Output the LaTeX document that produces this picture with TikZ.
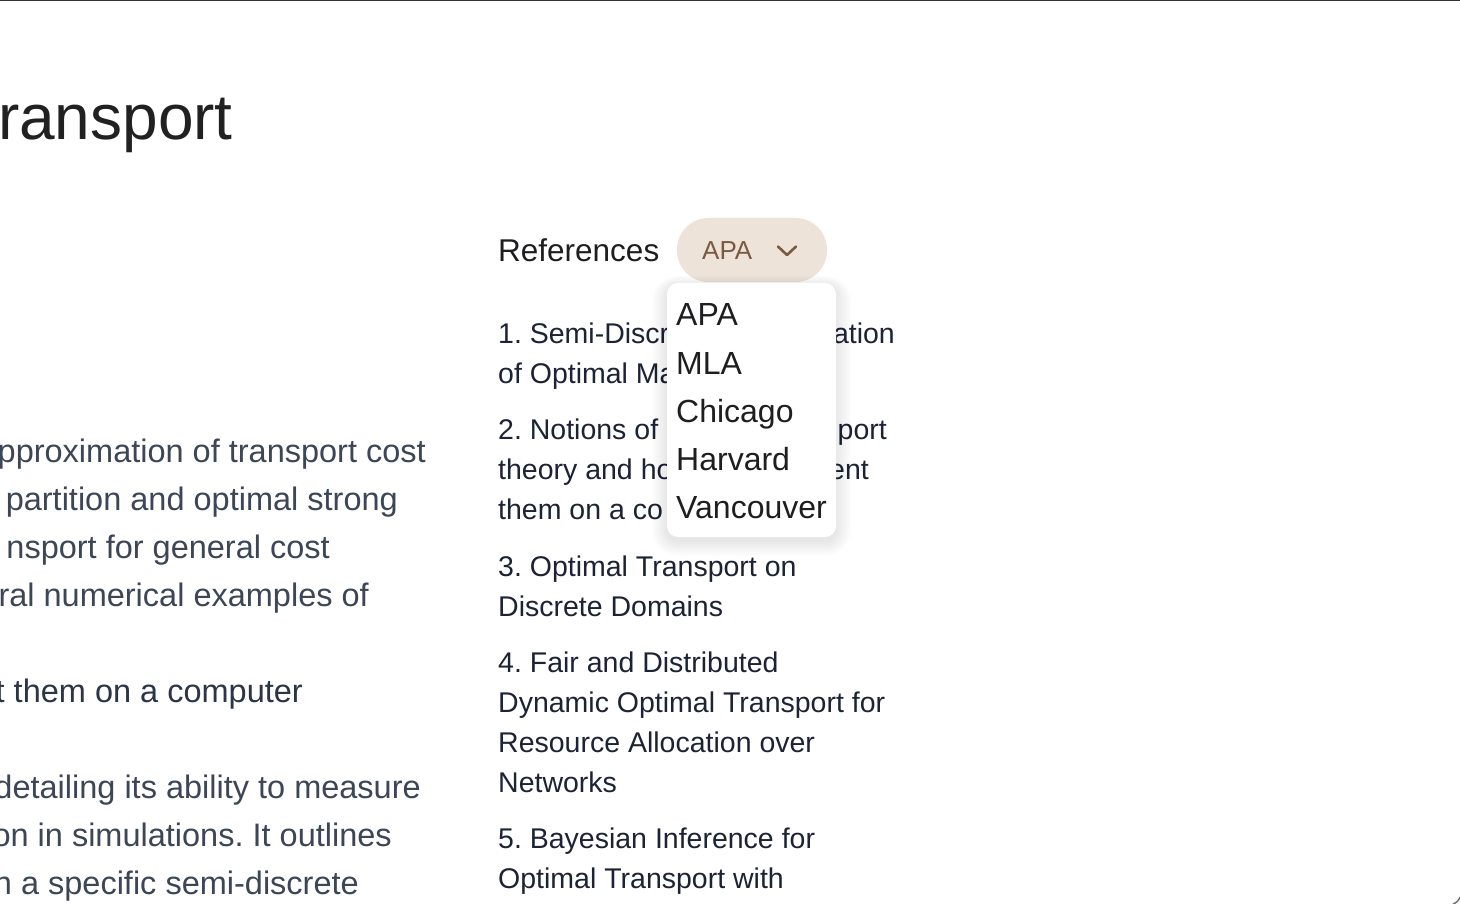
\documentclass[tikz,border=0pt]{standalone}
\usepackage{fontspec}
\setmainfont{Liberation Sans}
\usetikzlibrary{positioning}
\usepackage{xcolor}

\definecolor{slate}{HTML}{3D4656}
\definecolor{slatedark}{HTML}{2C3545}
\definecolor{navy}{HTML}{1C2334}
\definecolor{ink}{HTML}{1E1E20}
\definecolor{pill}{HTML}{EDE3D8}
\definecolor{pilltext}{HTML}{7B5A43}

\begin{document}
\frenchspacing
\begin{tikzpicture}[x=1pt,y=-1pt,
  every node/.style={inner sep=0pt},
  bodyline/.style={anchor=base east, text=slate, font=\fontsize{32.5}{48}\selectfont},
  listline/.style={anchor=base west, text=navy, font=\fontsize{28.5}{40}\selectfont},
  listtail/.style={anchor=base east, text=navy, font=\fontsize{28.5}{40}\selectfont},
  menuitem/.style={anchor=base west, text=ink, font=\fontsize{32}{48}\selectfont}]

\useasboundingbox (0,0) rectangle (1460,904);
\clip (0,0) rectangle (1460,904);
\fill[white] (0,0) rectangle (1460,904);

% window edge
\draw[black!80, line width=1.5pt] (0,0.75)--(1460,0.75);
\draw[black!55, line width=1.5pt] (1453,904) to[bend right=25] (1460,897);

% heading
\node[anchor=base east, text=black!87, font=\fontsize{64}{72}\selectfont] (title) at (233,140) {ransport};

% left column
{
\node[bodyline] (para1) at (426,462) {pproximation of transport cost};
\node[bodyline] (para2) at (398,510) {partition and optimal strong};
\node[bodyline] (para3) at (330,558) {nsport for general cost};
\node[bodyline] (para4) at (369,606) {eral numerical examples of};

\node[bodyline, text=slatedark] (sub2) at (303,702) {t them on a computer};

\node[bodyline] (para5) at (421,798) {detailing its ability to measure};
\node[bodyline] (para6) at (392,846) {on in simulations. It outlines};
\node[bodyline] (para7) at (359,894) {n a specific semi-discrete};
}

% references header
\node[anchor=base west, text=ink, font=\fontsize{31.5}{40}\selectfont] (reflabel) at (498,261.5) {References};

\node[fill=pill, rounded corners=31.5pt, minimum width=150pt, minimum height=64pt] (stylebtn) at (752,250) {};
\node[anchor=base west, text=pilltext, font=\fontsize{26}{30}\selectfont] (stylename) at (702,260) {APA};
\draw[pilltext, line width=2.6pt, line cap=round, line join=round] (778,246.5)--(787,255)--(796,246.5);

% reference list
{
\node[listline] (ref1a) at (498,343) {1. Semi-Discr};
\node[listtail] (ref1b) at (895,343) {ation};
\node[listline] (ref1c) at (498,383) {of Optimal Ma};

\node[listline] (ref2a) at (498,439) {2. Notions of};
\node[listtail] (ref2b) at (887,439) {port};
\node[listline] (ref2c) at (498,479) {theory and ho};
\node[listtail] (ref2d) at (869,479) {ent};
\node[listline] (ref2e) at (498,519) {them on a co};

\node[listline] (ref3a) at (498,576) {3. Optimal Transport on};
\node[listline] (ref3b) at (498,616) {Discrete Domains};

\node[listline] (ref4a) at (498,672) {4. Fair and Distributed};
\node[listline] (ref4b) at (498,712) {Dynamic Optimal Transport for};
\node[listline] (ref4c) at (498,752) {Resource Allocation over};
\node[listline] (ref4d) at (498,792) {Networks};

\node[listline] (ref5a) at (498,848) {5. Bayesian Inference for};
\node[listline] (ref5b) at (498,888) {Optimal Transport with};
}

% dropdown menu, soft shadow first
\foreach \s in {1,3,...,15}
  \fill[black, opacity=0.012, rounded corners=11+\s] (667-\s,285-0.6*\s) rectangle (836+\s,541+\s);
\node[fill=white, rounded corners=11pt, minimum width=169pt, minimum height=254pt] (menu) at (751.5,410) {};

\node[menuitem] (optapa) at (676,326) {APA};
\node[menuitem] (optmla) at (676,374) {MLA};
\node[menuitem] (optchicago) at (676,422) {Chicago};
\node[menuitem] (optharvard) at (676,470) {Harvard};
\node[menuitem] (optvancouver) at (676,518) {Vancouver};

\end{tikzpicture}
\end{document}
